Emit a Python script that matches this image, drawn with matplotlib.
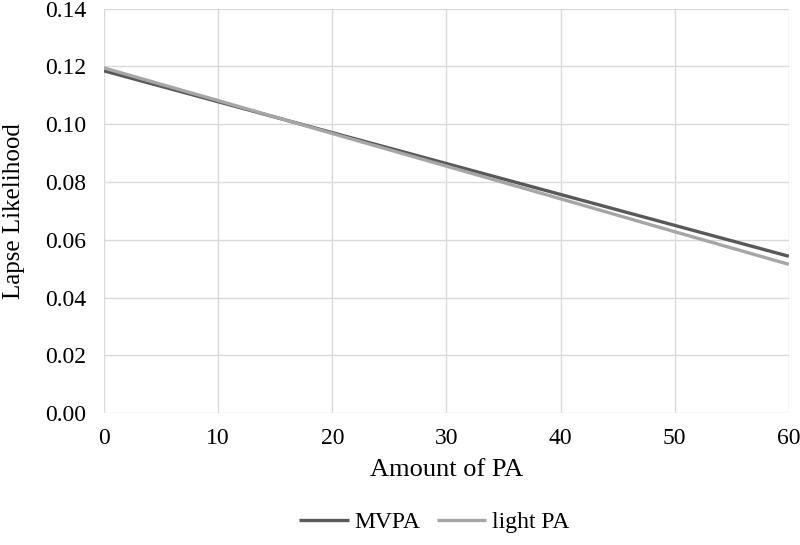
import matplotlib
matplotlib.use("Agg")
import matplotlib.pyplot as plt

x_vals = [0, 10, 20, 30, 40, 50, 60]
mvpa = [0.1185, 0.1078, 0.0971, 0.0864, 0.0757, 0.0650, 0.0543]
light_pa = [0.1195, 0.1082, 0.0968, 0.0855, 0.0742, 0.0628, 0.0515]
y_ticks = [0.00, 0.02, 0.04, 0.06, 0.08, 0.10, 0.12, 0.14]
x_ticks = [0, 10, 20, 30, 40, 50, 60]

plt.rcParams['font.family'] = ['Liberation Serif', 'DejaVu Serif']

fig = plt.figure(figsize=(8, 5.45), dpi=100)
ax = fig.add_axes([0.13, 0.242, 0.856, 0.742])

ax.plot(x_vals, mvpa, color='#595959', lw=2.4, label='MVPA', solid_capstyle='butt', zorder=3)
ax.plot(x_vals, light_pa, color='#a6a6a6', lw=2.4, label='light PA', solid_capstyle='butt', zorder=3)

ax.set_xlim(0, 60)
ax.set_ylim(0, 0.14)
ax.set_xticks(x_ticks)
ax.set_yticks(y_ticks)
ax.set_yticklabels([f"{v:.2f}" for v in y_ticks])
ax.grid(True, color='#d9d9d9', lw=1)
ax.set_axisbelow(True)
for s in ax.spines.values():
    s.set_visible(False)
ax.tick_params(length=0, labelsize=17, colors='black')
ax.tick_params(axis='y', pad=13)
ax.tick_params(axis='x', pad=11)

ax.set_xlabel('Amount of PA', fontsize=19, labelpad=7)
ax.set_ylabel('Lapse Likelihood', fontsize=18, labelpad=14)

fig.legend(loc='center', bbox_to_anchor=(0.543, 0.042), ncol=2, frameon=False,
           fontsize=17, handlelength=2.1, columnspacing=0.7, handletextpad=0.25)

fig.savefig('out.png', dpi=100)
